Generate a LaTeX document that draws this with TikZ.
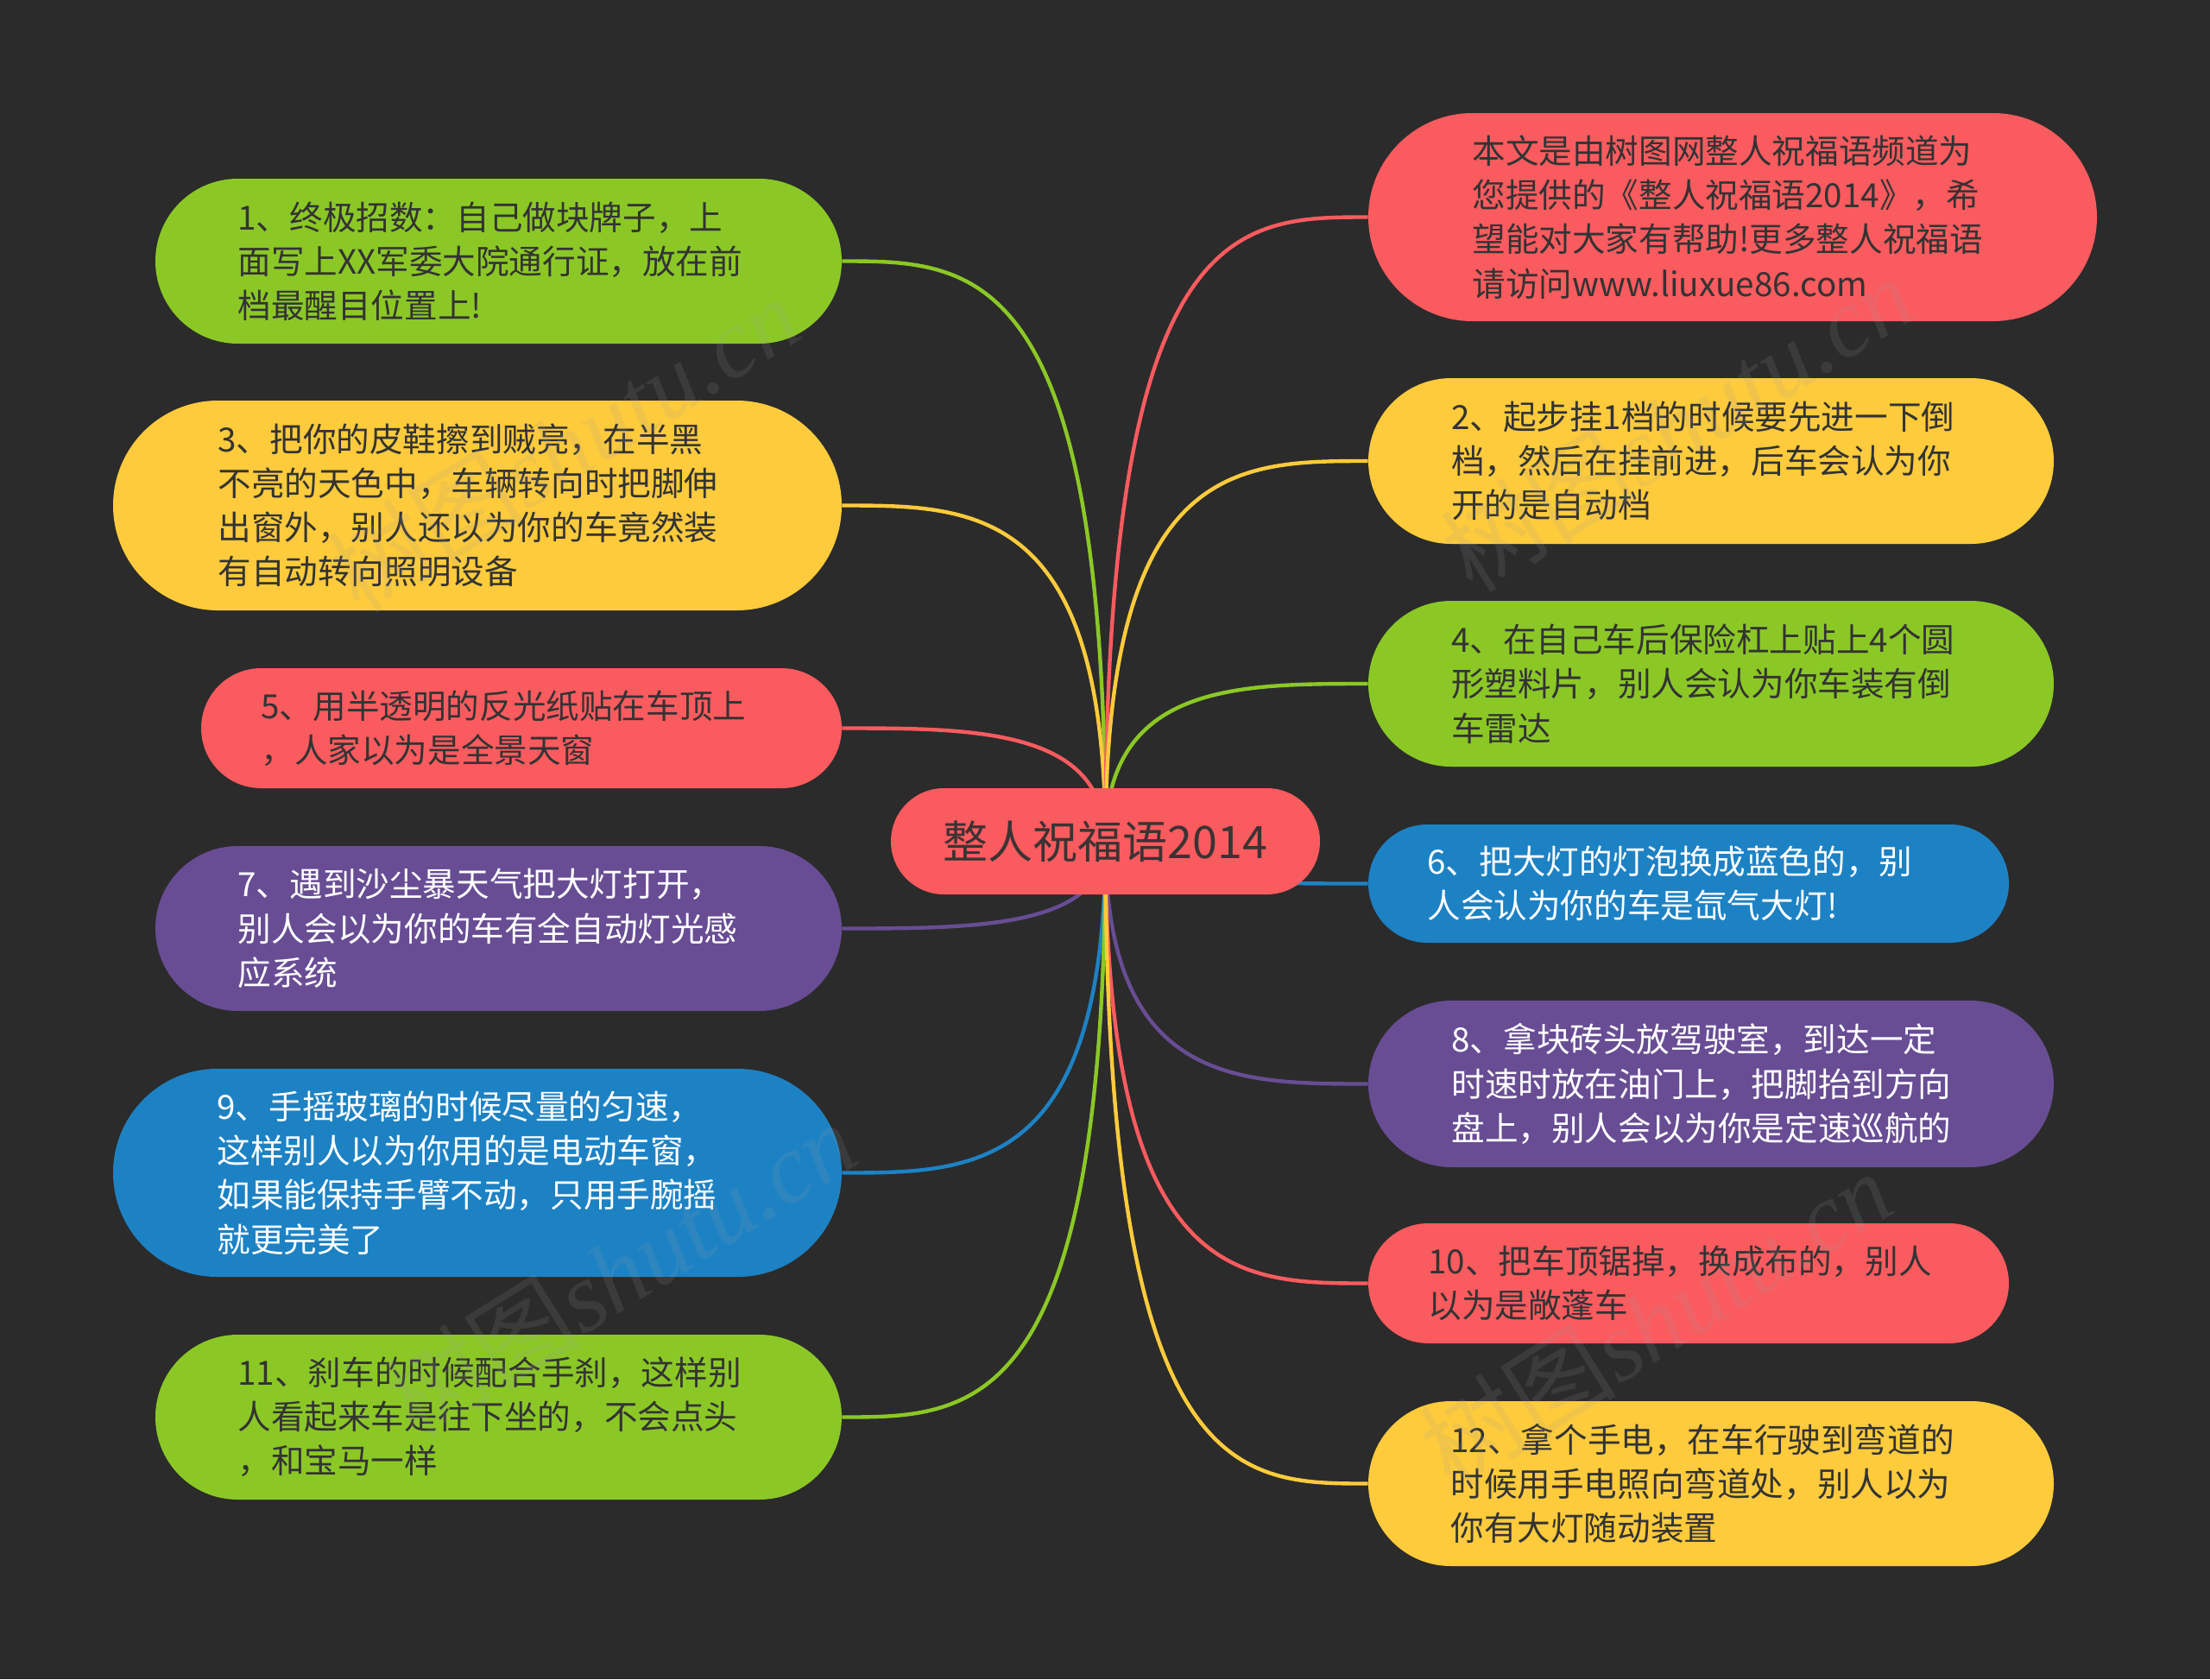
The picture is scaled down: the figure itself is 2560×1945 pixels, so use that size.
\documentclass[tikz,border=0pt]{standalone}
\usepackage{fontspec}
\setmainfont{Noto Sans CJK SC}
\newfontfamily\wmlatin{Liberation Serif}
\usetikzlibrary{calc}
\definecolor{bgc}{HTML}{2B2B2B}
\definecolor{cred}{HTML}{FA5B5F}
\definecolor{cyel}{HTML}{FDCB3C}
\definecolor{cgrn}{HTML}{8BC826}
\definecolor{cblu}{HTML}{1D82C4}
\definecolor{cpur}{HTML}{684D94}
\definecolor{tdark}{HTML}{333333}
\definecolor{tctr}{HTML}{3B3333}
\pgfdeclarelayer{back}
\pgfdeclarelayer{links}
\pgfsetlayers{back,links,main}
\tikzset{
  pill/.style={rectangle, inner sep=0pt, align=left,
    font=\fontsize{19.3pt}{25.6pt}\selectfont},
  ctrpill/.style={rectangle, inner sep=0pt, align=center, fill=cred, text=tctr,
    font=\fontsize{26pt}{30pt}\selectfont},
  link/.style={line width=2.2pt},
  wm/.style={text=gray!75, opacity=0.14, rotate=32, inner sep=0pt,
    font=\fontsize{57pt}{60pt}\selectfont}
}
\newcommand\mmnode[8]{%
  \pgfmathsetmacro\mmW{(#4-#2)*0.5}%
  \pgfmathsetmacro\mmH{(#5-#3)*0.5}%
  \pgfmathsetmacro\mmT{\mmW-\mmH}%
  \pgfmathsetmacro\mmR{\mmH/2}%
  \node[pill, fill=#6, text=#7, minimum width=\mmW pt, minimum height=\mmH pt,
        text width=\mmT pt, rounded corners=\mmR pt]
       (#1) at ({(#2+#4)/2},{(#3+#5)/2}) {#8};%
}
\newcommand\mmlink[3]{%
  \draw[link, #1] (ctr.center) .. controls (ctr.center |- #2.#3)
     and ($(ctr.center |- #2.#3)!0.5!(#2.#3)$) .. (#2.#3);%
}
\begin{document}
\begin{tikzpicture}[x=0.5pt,y=-0.5pt]
\begin{pgfonlayer}{back}
  \fill[bgc] (0,0) rectangle (2560,1945);
\end{pgfonlayer}
\useasboundingbox (0,0) rectangle (2560,1945);

% central topic
\node[ctrpill, minimum width=248.5pt, minimum height=61.5pt, rounded corners=30.7pt]
  (ctr) at (1280.5,974.5) {整人祝福语2014};

% left branches
\mmnode{L1}{180}{207}{975}{398}{cgrn}{tdark}{1、终极招数：自己做块牌子，上\\面写上XX军委大院通行证，放在前\\档最醒目位置上!}
\mmnode{L3}{131}{464}{975}{707}{cyel}{tdark}{3、把你的皮鞋擦到贼亮，在半黑\\不亮的天色中，车辆转向时把脚伸\\出窗外，别人还以为你的车竟然装\\有自动转向照明设备}
\mmnode{L5}{233}{774}{975}{913}{cred}{tdark}{5、用半透明的反光纸贴在车顶上\\，人家以为是全景天窗}
\mmnode{L7}{180}{980}{975}{1171}{cpur}{white}{7、遇到沙尘暴天气把大灯打开，\\别人会以为你的车有全自动灯光感\\应系统}
\mmnode{L9}{131}{1238}{975}{1479}{cblu}{white}{9、手摇玻璃的时候尽量的匀速，\\这样别人以为你用的是电动车窗，\\如果能保持手臂不动，只用手腕摇\\就更完美了}
\mmnode{L11}{180}{1546}{975}{1737}{cgrn}{tdark}{11、刹车的时候配合手刹，这样别\\人看起来车是往下坐的，不会点头\\，和宝马一样}

% right branches
\mmnode{R1}{1585}{131}{2429}{372}{cred}{tdark}{本文是由树图网整人祝福语频道为\\您提供的《整人祝福语2014》，希\\望能对大家有帮助!更多整人祝福语\\请访问www.liuxue86.com}
\mmnode{R2}{1585}{438}{2379}{630}{cyel}{tdark}{2、起步挂1档的时候要先进一下倒\\档，然后在挂前进，后车会认为你\\开的是自动档}
\mmnode{R4}{1585}{696}{2379}{888}{cgrn}{tdark}{4、在自己车后保险杠上贴上4个圆\\形塑料片，别人会认为你车装有倒\\车雷达}
\mmnode{R6}{1585}{955}{2327}{1092}{cblu}{white}{6、把大灯的灯泡换成蓝色的，别\\人会认为你的车是氙气大灯!}
\mmnode{R8}{1585}{1159}{2379}{1352}{cpur}{white}{8、拿块砖头放驾驶室，到达一定\\时速时放在油门上，把脚抬到方向\\盘上，别人会以为你是定速巡航的}
\mmnode{R10}{1585}{1417}{2327}{1556}{cred}{tdark}{10、把车顶锯掉，换成布的，别人\\以为是敞蓬车}
\mmnode{R12}{1585}{1623}{2379}{1814}{cyel}{tdark}{12、拿个手电，在车行驶到弯道的\\时候用手电照向弯道处，别人以为\\你有大灯随动装置}

% connectors
\begin{pgfonlayer}{links}
  \mmlink{cgrn}{L1}{east}
  \mmlink{cyel}{L3}{east}
  \mmlink{cred}{L5}{east}
  \mmlink{cpur}{L7}{east}
  \mmlink{cblu}{L9}{east}
  \mmlink{cgrn}{L11}{east}
  \mmlink{cred}{R1}{west}
  \mmlink{cyel}{R2}{west}
  \mmlink{cgrn}{R4}{west}
  \mmlink{cblu}{R6}{west}
  \mmlink{cpur}{R8}{west}
  \mmlink{cred}{R10}{west}
  \mmlink{cyel}{R12}{west}
\end{pgfonlayer}

% watermarks
\node[wm] (wm1) at (653,514) {树图{\wmlatin\itshape shutu.cn}};
\node[wm] (wm2) at (1943,490) {树图{\wmlatin\itshape shutu.cn}};
\node[wm] (wm3) at (718,1470) {树图{\wmlatin\itshape shutu.cn}};
\node[wm] (wm4) at (1918,1527) {树图{\wmlatin\itshape shutu.cn}};
\end{tikzpicture}
\end{document}
